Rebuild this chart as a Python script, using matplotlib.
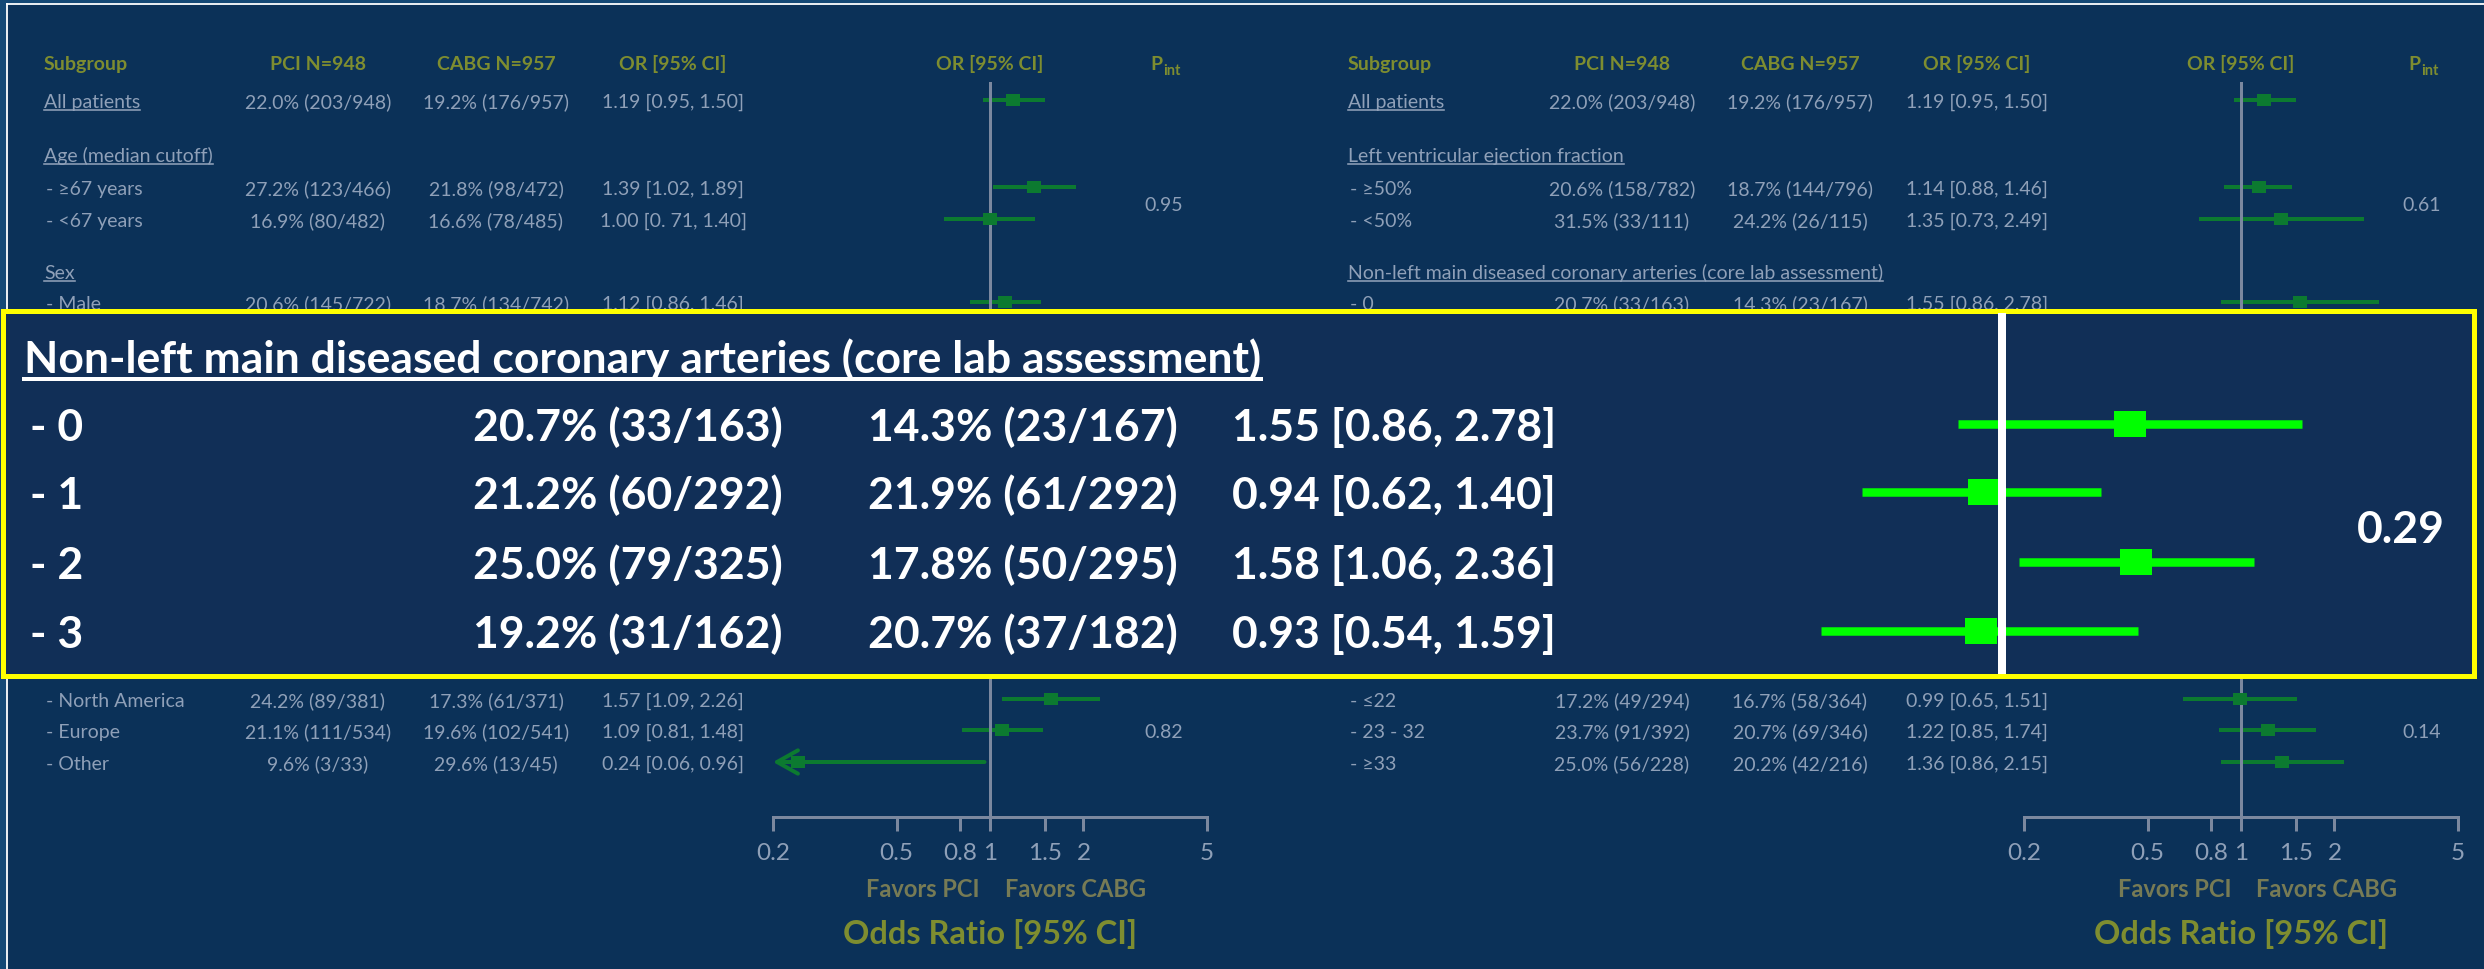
import numpy as np
import matplotlib
matplotlib.use("Agg")
import matplotlib.pyplot as plt
from matplotlib.patches import Rectangle
from matplotlib.ticker import NullLocator

plt.rcParams['font.family'] = ['Lato', 'DejaVu Sans']

# ------------------------------------------------------------------
# Données
# ------------------------------------------------------------------
col_headers = ["Subgroup", "PCI N=948", "CABG N=957", "OR [95% CI]"]

left_labels = ["All patients", "Age (median cutoff)", "- \u226567 years", "- <67 years",
               "Sex", "- Male", "- North America", "- Europe", "- Other"]
left_underline = [True, True, False, False, True, False, False, False, False]
left_pci = ["22.0% (203/948)", "", "27.2% (123/466)", "16.9% (80/482)",
            "", "20.6% (145/722)", "24.2% (89/381)", "21.1% (111/534)", "9.6% (3/33)"]
left_cabg = ["19.2% (176/957)", "", "21.8% (98/472)", "16.6% (78/485)",
             "", "18.7% (134/742)", "17.3% (61/371)", "19.6% (102/541)", "29.6% (13/45)"]
left_or_txt = ["1.19 [0.95, 1.50]", "", "1.39 [1.02, 1.89]", "1.00 [0. 71, 1.40]",
               "", "1.12 [0.86, 1.46]", "1.57 [1.09, 2.26]", "1.09 [0.81, 1.48]", "0.24 [0.06, 0.96]"]
left_or = [1.19, np.nan, 1.39, 1.00, np.nan, 1.12, 1.57, 1.09, 0.24]
left_lo = [0.95, np.nan, 1.02, 0.71, np.nan, 0.86, 1.09, 0.81, 0.06]
left_hi = [1.50, np.nan, 1.89, 1.40, np.nan, 1.46, 2.26, 1.48, 0.96]
left_pint = ["0.95", "0.82"]

right_labels = ["All patients", "Left ventricular ejection fraction", "- \u226550%", "- <50%",
                "Non-left main diseased coronary arteries (core lab assessment)", "- 0",
                "- \u226422", "- 23 - 32", "- \u226533"]
right_underline = [True, True, False, False, True, False, False, False, False]
right_pci = ["22.0% (203/948)", "", "20.6% (158/782)", "31.5% (33/111)",
             "", "20.7% (33/163)", "17.2% (49/294)", "23.7% (91/392)", "25.0% (56/228)"]
right_cabg = ["19.2% (176/957)", "", "18.7% (144/796)", "24.2% (26/115)",
              "", "14.3% (23/167)", "16.7% (58/364)", "20.7% (69/346)", "20.2% (42/216)"]
right_or_txt = ["1.19 [0.95, 1.50]", "", "1.14 [0.88, 1.46]", "1.35 [0.73, 2.49]",
                "", "1.55 [0.86, 2.78]", "0.99 [0.65, 1.51]", "1.22 [0.85, 1.74]", "1.36 [0.86, 2.15]"]
right_or = [1.19, np.nan, 1.14, 1.35, np.nan, 1.55, 0.99, 1.22, 1.36]
right_lo = [0.95, np.nan, 0.88, 0.73, np.nan, 0.86, 0.65, 0.85, 0.86]
right_hi = [1.50, np.nan, 1.46, 2.49, np.nan, 2.78, 1.51, 1.74, 2.15]
right_pint = ["0.61", "0.14"]

box_title = "Non-left main diseased coronary arteries (core lab assessment)"
box_labels = ["- 0", "- 1", "- 2", "- 3"]
box_pci = ["20.7% (33/163)", "21.2% (60/292)", "25.0% (79/325)", "19.2% (31/162)"]
box_cabg = ["14.3% (23/167)", "21.9% (61/292)", "17.8% (50/295)", "20.7% (37/182)"]
box_or_txt = ["1.55 [0.86, 2.78]", "0.94 [0.62, 1.40]", "1.58 [1.06, 2.36]", "0.93 [0.54, 1.59]"]
box_or = [1.55, 0.94, 1.58, 0.93]
box_lo = [0.86, 0.62, 1.06, 0.54]
box_hi = [2.78, 1.40, 2.36, 1.59]
box_pint = "0.29"

or_ticks = [0.2, 0.5, 0.8, 1, 1.5, 2, 5]
or_tick_labels = ["0.2", "0.5", "0.8", "1", "1.5", "2", "5"]

# ------------------------------------------------------------------
# Mise en page (pixels) et couleurs
# ------------------------------------------------------------------
W, H, DPI = 2484, 970, 100
PT = 72 / DPI                      # points par pixel

OUTER = '#144875'
BG = '#0b3158'
BOX_BG = '#112f57'
GREY = '#8fa0b8'
OLIVE = '#7e8d30'
FAVORS = '#777b55'
AXIS_GREY = '#7b889f'
GREEN = '#0c7a30'
BRIGHT = '#00ff00'
YELLOW = '#ffff00'

row_y = [101, 155, 188, 220, 272, 303, 700, 731, 763]
pint_y = [204, 731]
HEAD_Y = 63
LINE_TOP, AXIS_Y = 83, 818

panels = [
    dict(label_x=44, pci_x=318, cabg_x=496, or_x=673, pint_x=1164, f0=773, f1=1207,
         labels=left_labels, underline=left_underline, pci=left_pci, cabg=left_cabg,
         or_txt=left_or_txt, ors=left_or, los=left_lo, his=left_hi, pint=left_pint),
    dict(label_x=1348, pci_x=1622, cabg_x=1800, or_x=1977, pint_x=2422, f0=2024, f1=2458,
         labels=right_labels, underline=right_underline, pci=right_pci, cabg=right_cabg,
         or_txt=right_or_txt, ors=right_or, los=right_lo, his=right_hi, pint=right_pint),
]

# marqueur rectangulaire (un peu plus large que haut)
RECT = [(-1.3, -1), (1.3, -1), (1.3, 1), (-1.3, 1), (-1.3, -1)]

fig = plt.figure(figsize=(W / DPI, H / DPI), dpi=DPI)
fig.patch.set_facecolor(OUTER)
renderer = fig.canvas.get_renderer()

base = fig.add_axes([0, 0, 1, 1])
base.set_xlim(0, W)
base.set_ylim(H, 0)
base.axis('off')
base.add_patch(Rectangle((7, 5), W, H, facecolor=BG, edgecolor='none'))
base.plot([7, W], [5, 5], color='white', lw=1.8 * PT)
base.plot([7, 7], [5, H], color='white', lw=1.8 * PT)


def put(ax, x, yc, s, size, color, ha='left', weight='normal', underline=False, ul_lw=1.6):
    """Texte centré verticalement sur yc (pixels), ligne de base calculée."""
    base_y = yc + 0.358 * size / PT
    t = ax.text(x, base_y, s, fontsize=size, color=color, ha=ha, va='baseline',
                fontweight=weight)
    if underline:
        bb = t.get_window_extent(renderer)
        inv = ax.transData.inverted()
        x0 = inv.transform((bb.x0, bb.y0))[0]
        x1 = inv.transform((bb.x1, bb.y0))[0]
        off = 0.16 * size / PT
        ax.plot([x0, x1], [base_y + off, base_y + off], color=color, lw=ul_lw * PT)
    return t


def pint_header(ax, xc, yc):
    b = yc + 0.358 * 14 / PT
    ax.text(xc - 2, b, "P", fontsize=14, color=OLIVE, ha='right', va='baseline', fontweight='bold')
    ax.text(xc - 1, b + 5, "int", fontsize=10.5, color=OLIVE, ha='left', va='baseline',
            fontweight='bold')


def forest(x0, x1, y0, y1, ors, los, his, ys, color, ms, lw):
    ax = fig.add_axes([x0 / W, 1 - y1 / H, (x1 - x0) / W, (y1 - y0) / H])
    ax.set_facecolor('none')
    ax.set_xscale('log')
    ax.set_xlim(0.2, 5)
    ax.set_ylim(y1, y0)
    xmin = ax.get_xlim()[0]
    for o, lo, hi, y in zip(ors, los, his, ys):
        if np.isnan(o):
            continue
        if lo < xmin:
            ax.annotate('', xy=(xmin, y), xytext=(hi, y),
                        arrowprops=dict(arrowstyle='->,head_length=0.75,head_width=0.42',
                                        color=color, lw=lw, shrinkA=0, shrinkB=0,
                                        mutation_scale=20), zorder=2, annotation_clip=False)
        else:
            ax.hlines(y, lo, hi, color=color, lw=lw, zorder=2)
        ax.plot(o, y, marker=RECT, ms=ms, color=color, mew=0, zorder=4, clip_on=False)
    return ax


# ------------------------------------------------------------------
# Deux panneaux
# ------------------------------------------------------------------
for p in panels:
    put(base, p['label_x'], HEAD_Y, col_headers[0], 14, OLIVE, weight='bold')
    put(base, p['pci_x'], HEAD_Y, col_headers[1], 14, OLIVE, ha='center', weight='bold')
    put(base, p['cabg_x'], HEAD_Y, col_headers[2], 14, OLIVE, ha='center', weight='bold')
    put(base, p['or_x'], HEAD_Y, col_headers[3], 14, OLIVE, ha='center', weight='bold')
    xc_forest = (p['f0'] + p['f1']) / 2
    put(base, xc_forest, HEAD_Y, col_headers[3], 14, OLIVE, ha='center', weight='bold')
    pint_header(base, p['pint_x'], HEAD_Y)

    for i, y in enumerate(row_y):
        x_lab = p['label_x'] + (0 if p['underline'][i] else 2)
        put(base, x_lab, y, p['labels'][i], 14, GREY, underline=p['underline'][i])
        put(base, p['pci_x'], y, p['pci'][i], 14, GREY, ha='center')
        put(base, p['cabg_x'], y, p['cabg'][i], 14, GREY, ha='center')
        put(base, p['or_x'], y, p['or_txt'][i], 14, GREY, ha='center')
    for s, y in zip(p['pint'], pint_y):
        put(base, p['pint_x'], y, s, 14, GREY, ha='center')

    ax = forest(p['f0'], p['f1'], LINE_TOP, AXIS_Y, p['ors'], p['los'], p['his'], row_y,
                GREEN, 10.5, 4 * PT)
    for s in ['left', 'right', 'top']:
        ax.spines[s].set_visible(False)
    ax.spines['bottom'].set_color(AXIS_GREY)
    ax.spines['bottom'].set_linewidth(3 * PT)
    ax.axvline(1, color=AXIS_GREY, lw=3 * PT, zorder=3)
    ax.set_xticks(or_ticks, labels=or_tick_labels)
    ax.xaxis.set_minor_locator(NullLocator())
    ax.set_yticks([])
    ax.tick_params(axis='x', length=14 * PT, width=3 * PT, color=AXIS_GREY,
                   labelcolor=GREY, labelsize=17.5, pad=8)

    put(base, xc_forest - 10, 889, "Favors PCI", 17, FAVORS, ha='right', weight='bold')
    put(base, xc_forest + 15, 889, "Favors CABG", 17, FAVORS, ha='left', weight='bold')
    put(base, xc_forest, 932, "Odds Ratio [95% CI]", 23.5, OLIVE, ha='center', weight='bold')

# ------------------------------------------------------------------
# Encadré mis en évidence
# ------------------------------------------------------------------
BX0, BX1, BY0, BY1 = 3, 2474, 312, 677
box = fig.add_axes([BX0 / W, 1 - BY1 / H, (BX1 - BX0) / W, (BY1 - BY0) / H])
box.set_facecolor(BOX_BG)
box.set_xlim(BX0, BX1)
box.set_ylim(BY1, BY0)
box.set_xticks([])
box.set_yticks([])
for s in box.spines.values():
    s.set_color(YELLOW)
    s.set_linewidth(5 * PT)

box_rows = [425, 493, 563, 632]
put(box, 24, 357, box_title, 32, 'white', weight='bold', underline=True, ul_lw=4)
for i, y in enumerate(box_rows):
    put(box, 30, y, box_labels[i], 32, 'white', weight='bold')
    put(box, 628, y, box_pci[i], 32, 'white', ha='center', weight='bold')
    put(box, 1023, y, box_cabg[i], 32, 'white', ha='center', weight='bold')
    put(box, 1394, y, box_or_txt[i], 32, 'white', ha='center', weight='bold')
put(box, 2401, 527, box_pint, 32, 'white', ha='center', weight='bold')

bx = forest(1530.5, 2473.5, BY0 + 2, BY1 - 2, box_or, box_lo, box_hi, box_rows,
            BRIGHT, 23.5, 8.5 * PT)
bx.axis('off')
bx.axvline(1, color='white', lw=8 * PT, zorder=5)

fig.savefig("out.png", dpi=DPI, facecolor=fig.get_facecolor())
